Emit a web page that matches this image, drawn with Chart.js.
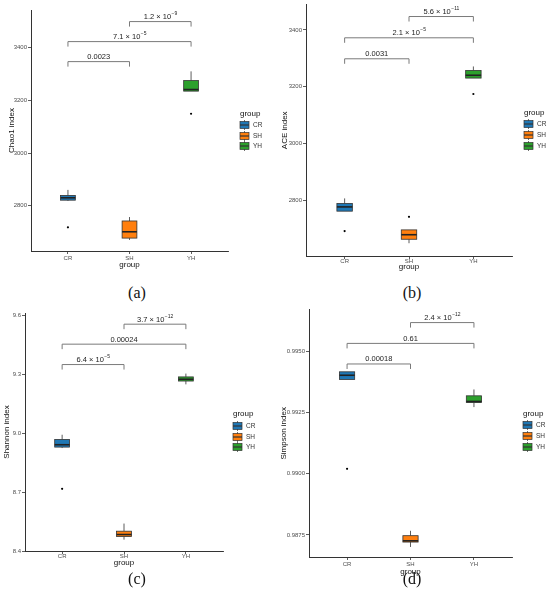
<!DOCTYPE html>
<html>
<head>
<meta charset="utf-8">
<script src="https://cdn.jsdelivr.net/npm/chart.js@4/dist/chart.umd.min.js"></script>
<style>
  body { margin: 0; background: #fff; }
  #wrap { position: relative; width: 550px; height: 599px; }
  canvas { position: absolute; }
  .tag { position: absolute; width: 60px; margin-left: -30px; text-align: center;
         font-family: "Liberation Serif", "DejaVu Serif", serif; font-size: 16px; color: #111; }
</style>
</head>
<body>
<div id="wrap">
  <canvas id="chA" width="275" height="275" style="left:0;top:0"></canvas>
  <canvas id="chB" width="275" height="277" style="left:275px;top:0"></canvas>
  <canvas id="chC" width="275" height="268" style="left:0;top:305px"></canvas>
  <canvas id="chD" width="275" height="277" style="left:275px;top:305px"></canvas>
  <div class="tag" style="left:137px;top:284px">(a)</div>
  <div class="tag" style="left:412px;top:284px">(b)</div>
  <div class="tag" style="left:137px;top:570px">(c)</div>
  <div class="tag" style="left:412px;top:570px">(d)</div>
</div>
<script>
const groups = ["CR", "SH", "YH"];
const groupColors = ["#1f77b4", "#ff7f0e", "#2ca02c"];

// box stats per group: [lower whisker, q1, median, q3, upper whisker]
const chao1Stats = [[2818, 2821, 2830, 2839, 2860], [2670, 2677, 2701, 2742, 2757], [3235, 3235, 3241, 3275, 3310]];
const chao1Outliers = [{x: 1, y: 2718}, {x: 3, y: 3149}];
const chao1Ticks = [2800, 3000, 3200, 3400];
const chao1TickLabels = ["2800", "3000", "3200", "3400"];
const chao1Pvals = [[1, 2, 3347, "0.0023"], [1, 3, 3423, "7.1 × 10^−5"], [2, 3, 3499, "1.2 × 10^−9"]];

const aceStats = [[2761, 2761, 2776, 2788, 2806], [2648, 2662, 2678, 2695, 2695], [3230, 3230, 3240, 3257, 3271]];
const aceOutliers = [{x: 1, y: 2691}, {x: 2, y: 2741}, {x: 3, y: 3174}];
const aceTicks = [2800, 3000, 3200, 3400];
const aceTickLabels = ["2800", "3000", "3200", "3400"];
const acePvals = [[1, 2, 3298, "0.0031"], [1, 3, 3372, "2.1 × 10^−5"], [2, 3, 3447, "5.6 × 10^−11"]];

const shannonStats = [[8.925, 8.93, 8.942, 8.969, 8.993], [8.458, 8.474, 8.484, 8.501, 8.54], [9.25, 9.267, 9.276, 9.288, 9.305]];
const shannonOutliers = [{x: 1, y: 8.717}];
const shannonTicks = [8.4, 8.7, 9.0, 9.3, 9.6];
const shannonTickLabels = ["8.4", "8.7", "9.0", "9.3", "9.6"];
const shannonPvals = [[1, 2, 9.351, "6.4 × 10^−5"], [1, 3, 9.455, "0.00024"], [2, 3, 9.557, "3.7 × 10^−12"]];

const simpsonStats = [[0.99385, 0.99385, 0.99402, 0.99416, 0.99416], [0.98701, 0.98721, 0.98726, 0.98747, 0.98767], [0.99272, 0.99291, 0.99295, 0.99318, 0.99344]];
const simpsonOutliers = [{x: 1, y: 0.9902}];
const simpsonTicks = [0.9875, 0.99, 0.9925, 0.995];
const simpsonTickLabels = ["0.9875", "0.9900", "0.9925", "0.9950"];
const simpsonPvals = [[1, 2, 0.99448, "0.00018"], [1, 3, 0.99532, "0.61"], [2, 3, 0.99617, "2.4 × 10^−12"]];

Chart.defaults.font.family = "'Liberation Sans', Arial, sans-serif";
const boxWidth = 0.24;
const FONT = "'Liberation Sans', Arial, sans-serif";

function makePanel(id, p) {
    const canvas = document.getElementById(id);
    const W = canvas.width, H = canvas.height;

    const boxPlugin = {
        id: "boxes",
        beforeDatasetsDraw(chart) {
            const {ctx, scales: {x, y}} = chart;
            ctx.save();
            p.stats.forEach((s, i) => {
                const cx = x.getPixelForValue(i + 1);
                const x0 = x.getPixelForValue(i + 1 - boxWidth / 2);
                const x1 = x.getPixelForValue(i + 1 + boxWidth / 2);
                const [lo, q1, med, q3, hi] = s.map(v => y.getPixelForValue(v));
                ctx.strokeStyle = "#333";
                ctx.lineWidth = 0.8;
                ctx.beginPath();
                ctx.moveTo(cx, hi); ctx.lineTo(cx, q3);
                ctx.moveTo(cx, q1); ctx.lineTo(cx, lo);
                ctx.stroke();
                ctx.fillStyle = groupColors[i];
                ctx.fillRect(x0, q3, x1 - x0, q1 - q3);
                ctx.strokeRect(x0, q3, x1 - x0, q1 - q3);
                ctx.lineWidth = 1.6;
                ctx.strokeStyle = "#222";
                ctx.beginPath();
                ctx.moveTo(x0, med); ctx.lineTo(x1, med);
                ctx.stroke();
            });
            ctx.restore();
        },
        afterDraw(chart) {
            const {ctx, scales: {x, y}} = chart;
            ctx.save();
            // significance brackets
            p.pvals.forEach(([a, b, v, label]) => {
                const xa = x.getPixelForValue(a), xb = x.getPixelForValue(b), yy = y.getPixelForValue(v);
                ctx.strokeStyle = "#7a7a7a";
                ctx.lineWidth = 1;
                ctx.beginPath();
                ctx.moveTo(xa, yy + 5); ctx.lineTo(xa, yy); ctx.lineTo(xb, yy); ctx.lineTo(xb, yy + 5);
                ctx.stroke();
                const [base, exp] = label.split("^");
                ctx.fillStyle = "#222";
                ctx.textBaseline = "alphabetic";
                ctx.font = "7.5px " + FONT;
                const bw = ctx.measureText(base).width;
                let ew = 0;
                if (exp) {
                    ctx.font = "5px " + FONT;
                    ew = ctx.measureText(exp).width;
                }
                const start = (xa + xb) / 2 - (bw + ew) / 2;
                ctx.font = "7.5px " + FONT;
                ctx.textAlign = "left";
                ctx.fillText(base, start, yy - 2.5);
                if (exp) {
                    ctx.font = "5px " + FONT;
                    ctx.fillText(exp, start + bw + 0.5, yy - 6.5);
                }
            });
            // legend
            const lg = p.legend;
            ctx.textAlign = "left";
            ctx.textBaseline = "middle";
            ctx.fillStyle = "#111";
            ctx.font = "8px " + FONT;
            ctx.fillText("group", lg.x, lg.title);
            groups.forEach((g, i) => {
                const ky = lg.keys[i];
                ctx.strokeStyle = "#333";
                ctx.lineWidth = 0.7;
                ctx.beginPath();
                ctx.moveTo(lg.x + 4.5, ky - 5); ctx.lineTo(lg.x + 4.5, ky + 5);
                ctx.stroke();
                ctx.fillStyle = groupColors[i];
                ctx.fillRect(lg.x, ky - 3.5, 9, 7);
                ctx.strokeRect(lg.x, ky - 3.5, 9, 7);
                ctx.lineWidth = 1.2;
                ctx.beginPath();
                ctx.moveTo(lg.x, ky); ctx.lineTo(lg.x + 9, ky);
                ctx.stroke();
                ctx.fillStyle = "#333";
                ctx.font = "6.5px " + FONT;
                ctx.fillText(g, lg.x + 13, ky);
            });
            ctx.restore();
        }
    };

    new Chart(canvas, {
        type: "scatter",
        data: {
            datasets: [{
                data: p.outliers,
                backgroundColor: "#000",
                borderWidth: 0,
                pointRadius: 1.1,
                pointHoverRadius: 1.1
            }]
        },
        options: {
            responsive: false,
            animation: false,
            events: [],
            layout: { padding: { left: 0, top: p.area.t, right: W - p.area.r, bottom: 0 } },
            plugins: { legend: { display: false }, tooltip: { enabled: false } },
            scales: {
                x: {
                    type: "linear",
                    min: 0.4,
                    max: 3.6,
                    afterBuildTicks: s => { s.ticks = groups.map((g, i) => ({ value: i + 1 })); },
                    afterFit: s => { s.height = H - p.area.b; },
                    ticks: {
                        callback: v => groups[v - 1],
                        font: { size: 6 },
                        color: "#4d4d4d",
                        padding: p.xPad,
                        autoSkip: false,
                        maxRotation: 0
                    },
                    grid: { display: true, drawOnChartArea: false, drawTicks: true, tickLength: 3, color: "#333", lineWidth: 0.8 },
                    border: { display: true, color: "#333", width: 1 },
                    title: { display: true, text: "group", font: { size: 8 }, color: "#111", padding: { top: 0, bottom: 5 } }
                },
                y: {
                    min: p.ymin,
                    max: p.ymax,
                    afterBuildTicks: s => { s.ticks = p.ticks.map(v => ({ value: v })); },
                    afterFit: s => { s.width = p.area.l; },
                    ticks: {
                        callback: (v, i) => p.tickLabels[i],
                        font: { size: 6 },
                        color: "#4d4d4d",
                        padding: 1
                    },
                    grid: { display: true, drawOnChartArea: false, drawTicks: true, tickLength: 3, color: "#333", lineWidth: 0.8 },
                    border: { display: true, color: "#333", width: 1 },
                    title: { display: true, text: p.title, font: { size: 8 }, color: "#111", padding: { top: p.titlePad, bottom: 0 } }
                }
            }
        },
        plugins: [boxPlugin]
    });
}

makePanel("chA", {
    stats: chao1Stats, outliers: chao1Outliers, ticks: chao1Ticks, tickLabels: chao1TickLabels, pvals: chao1Pvals,
    title: "Chao1 index", titlePad: 7, ymin: 2628, ymax: 3543, xPad: 1,
    area: { l: 31, r: 228, t: 10, b: 251 },
    legend: { x: 240, title: 114, keys: [125, 136, 146] }
});
makePanel("chB", {
    stats: aceStats, outliers: aceOutliers, ticks: aceTicks, tickLabels: aceTickLabels, pvals: acePvals,
    title: "ACE index", titlePad: 5, ymin: 2603, ymax: 3489, xPad: -1,
    area: { l: 31, r: 237, t: 4, b: 256 },
    legend: { x: 249, title: 113, keys: [124, 135, 146] }
});
makePanel("chC", {
    stats: shannonStats, outliers: shannonOutliers, ticks: shannonTicks, tickLabels: shannonTickLabels, pvals: shannonPvals,
    title: "Shannon index", titlePad: 2, ymin: 8.4, ymax: 9.614, xPad: -1,
    area: { l: 25, r: 223, t: 8, b: 246 },
    legend: { x: 233, title: 109, keys: [121, 132, 142] }
});
makePanel("chD", {
    stats: simpsonStats, outliers: simpsonOutliers, ticks: simpsonTicks, tickLabels: simpsonTickLabels, pvals: simpsonPvals,
    title: "Simpson index", titlePad: 3.5, ymin: 0.9866, ymax: 0.9967, xPad: 1,
    area: { l: 34, r: 237, t: 1, b: 252 },
    legend: { x: 248, title: 109, keys: [120, 131, 142] }
});
</script>
</body>
</html>
